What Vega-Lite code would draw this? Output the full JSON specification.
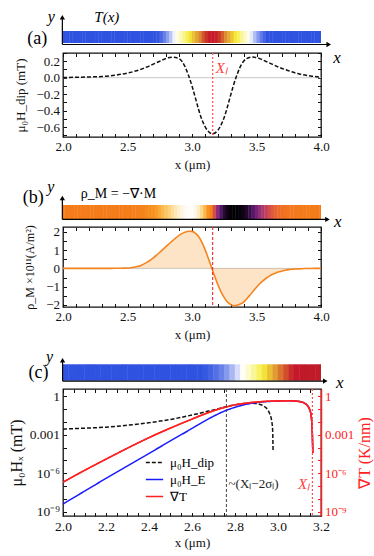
{
"$schema":"https://vega.github.io/schema/vega-lite/v6.json",
"padding":{"left":7,"top":0,"right":0,"bottom":0},
"background":"white",
"config":{
 "view":{"stroke":"#111111","strokeWidth":1.3},
 "font":"Liberation Serif",
 "axis":{"labelFont":"Liberation Serif","labelFontSize":13,"labelColor":"#111111","titleFont":"Liberation Serif","titleFontSize":13,"titleFontWeight":"normal","titleColor":"#111111","domain":false,"grid":false,"ticks":true,"tickColor":"#111111","tickSize":-3.5,"tickWidth":1,"labelPadding":7,"titlePadding":5,"labelFlush":false,"labelOverlap":false,"labelBound":false}
},
"datasets":{
 "T":[{"x":2.0125,"T":0},{"x":2.0375,"T":0},{"x":2.0625,"T":0},{"x":2.0875,"T":0},{"x":2.1125,"T":0},{"x":2.1375,"T":0},{"x":2.1625,"T":0},{"x":2.1875,"T":0},{"x":2.2125,"T":0},{"x":2.2375,"T":0},{"x":2.2625,"T":0},{"x":2.2875,"T":0},{"x":2.3125,"T":0},{"x":2.3375,"T":0.0001},{"x":2.3625,"T":0.0001},{"x":2.3875,"T":0.0001},{"x":2.4125,"T":0.0002},{"x":2.4375,"T":0.0003},{"x":2.4625,"T":0.0005},{"x":2.4875,"T":0.0009},{"x":2.5125,"T":0.0015},{"x":2.5375,"T":0.0025},{"x":2.5625,"T":0.0041},{"x":2.5875,"T":0.0064},{"x":2.6125,"T":0.0098},{"x":2.6375,"T":0.0148},{"x":2.6625,"T":0.0219},{"x":2.6875,"T":0.0319},{"x":2.7125,"T":0.0455},{"x":2.7375,"T":0.0636},{"x":2.7625,"T":0.0873},{"x":2.7875,"T":0.1175},{"x":2.8125,"T":0.1551},{"x":2.8375,"T":0.2009},{"x":2.8625,"T":0.2552},{"x":2.8875,"T":0.3179},{"x":2.9125,"T":0.3886},{"x":2.9375,"T":0.4658},{"x":2.9625,"T":0.5477},{"x":2.9875,"T":0.6318},{"x":3.0125,"T":0.7148},{"x":3.0375,"T":0.7933},{"x":3.0625,"T":0.8636},{"x":3.0875,"T":0.9221},{"x":3.1125,"T":0.9658},{"x":3.1375,"T":0.9922},{"x":3.1625,"T":0.9999},{"x":3.1875,"T":0.9884},{"x":3.2125,"T":0.9584},{"x":3.2375,"T":0.9115},{"x":3.2625,"T":0.8503},{"x":3.2875,"T":0.7781},{"x":3.3125,"T":0.6984},{"x":3.3375,"T":0.615},{"x":3.3625,"T":0.5311},{"x":3.3875,"T":0.4499},{"x":3.4125,"T":0.3738},{"x":3.4375,"T":0.3047},{"x":3.4625,"T":0.2436},{"x":3.4875,"T":0.1911},{"x":3.5125,"T":0.147},{"x":3.5375,"T":0.1109},{"x":3.5625,"T":0.0821},{"x":3.5875,"T":0.0596},{"x":3.6125,"T":0.0424},{"x":3.6375,"T":0.0297},{"x":3.6625,"T":0.0203},{"x":3.6875,"T":0.0136},{"x":3.7125,"T":0.009},{"x":3.7375,"T":0.0058},{"x":3.7625,"T":0.0037},{"x":3.7875,"T":0.0023},{"x":3.8125,"T":0.0014},{"x":3.8375,"T":0.0008},{"x":3.8625,"T":0.0005},{"x":3.8875,"T":0.0003},{"x":3.9125,"T":0.0002},{"x":3.9375,"T":0.0001},{"x":3.9625,"T":0.0001},{"x":3.9875,"T":0}],
 "Ha":[{"x":2,"h":0.003},{"x":2.1,"h":0.005},{"x":2.2,"h":0.009},{"x":2.3,"h":0.015},{"x":2.4,"h":0.03},{"x":2.5,"h":0.056},{"x":2.6,"h":0.1},{"x":2.65,"h":0.13},{"x":2.7,"h":0.165},{"x":2.75,"h":0.2},{"x":2.8,"h":0.235},{"x":2.85,"h":0.25},{"x":2.9,"h":0.23},{"x":2.95,"h":0.12},{"x":2.97,"h":0.04},{"x":3.0,"h":-0.1},{"x":3.02,"h":-0.21},{"x":3.05,"h":-0.38},{"x":3.07,"h":-0.48},{"x":3.1,"h":-0.59},{"x":3.12,"h":-0.64},{"x":3.16,"h":-0.68},{"x":3.2,"h":-0.64},{"x":3.22,"h":-0.59},{"x":3.25,"h":-0.48},{"x":3.27,"h":-0.38},{"x":3.3,"h":-0.21},{"x":3.32,"h":-0.1},{"x":3.35,"h":0.04},{"x":3.37,"h":0.12},{"x":3.4,"h":0.2},{"x":3.42,"h":0.23},{"x":3.47,"h":0.25},{"x":3.52,"h":0.235},{"x":3.57,"h":0.2},{"x":3.62,"h":0.165},{"x":3.67,"h":0.13},{"x":3.72,"h":0.1},{"x":3.82,"h":0.05},{"x":3.92,"h":0.02},{"x":4.0,"h":0.008}],
 "Rb":[{"x":2.0,"r":0},{"x":2.025,"r":0},{"x":2.05,"r":0},{"x":2.075,"r":0},{"x":2.1,"r":0},{"x":2.125,"r":0},{"x":2.15,"r":0},{"x":2.175,"r":0},{"x":2.2,"r":0},{"x":2.225,"r":0},{"x":2.25,"r":0},{"x":2.275,"r":0},{"x":2.3,"r":0},{"x":2.325,"r":0.001},{"x":2.35,"r":0.001},{"x":2.375,"r":0.002},{"x":2.4,"r":0.003},{"x":2.425,"r":0.005},{"x":2.45,"r":0.008},{"x":2.475,"r":0.013},{"x":2.5,"r":0.02},{"x":2.525,"r":0.035},{"x":2.55,"r":0.06},{"x":2.575,"r":0.1},{"x":2.6,"r":0.15},{"x":2.625,"r":0.23},{"x":2.65,"r":0.33},{"x":2.675,"r":0.44},{"x":2.7,"r":0.57},{"x":2.725,"r":0.72},{"x":2.75,"r":0.88},{"x":2.775,"r":1.04},{"x":2.8,"r":1.2},{"x":2.825,"r":1.36},{"x":2.85,"r":1.52},{"x":2.875,"r":1.67},{"x":2.9,"r":1.8},{"x":2.925,"r":1.91},{"x":2.95,"r":1.99},{"x":2.975,"r":2.03},{"x":3.0,"r":2.02},{"x":3.025,"r":1.93},{"x":3.05,"r":1.75},{"x":3.075,"r":1.45},{"x":3.1,"r":1.05},{"x":3.125,"r":0.58},{"x":3.15,"r":0.08},{"x":3.175,"r":-0.42},{"x":3.2,"r":-0.88},{"x":3.225,"r":-1.28},{"x":3.25,"r":-1.6},{"x":3.275,"r":-1.84},{"x":3.3,"r":-1.98},{"x":3.325,"r":-2.04},{"x":3.35,"r":-2.02},{"x":3.375,"r":-1.95},{"x":3.4,"r":-1.84},{"x":3.425,"r":-1.66},{"x":3.45,"r":-1.46},{"x":3.475,"r":-1.24},{"x":3.5,"r":-1.03},{"x":3.525,"r":-0.84},{"x":3.55,"r":-0.68},{"x":3.575,"r":-0.54},{"x":3.6,"r":-0.42},{"x":3.625,"r":-0.32},{"x":3.65,"r":-0.25},{"x":3.675,"r":-0.19},{"x":3.7,"r":-0.14},{"x":3.725,"r":-0.1},{"x":3.75,"r":-0.07},{"x":3.775,"r":-0.05},{"x":3.8,"r":-0.035},{"x":3.825,"r":-0.025},{"x":3.85,"r":-0.017},{"x":3.875,"r":-0.011},{"x":3.9,"r":-0.007},{"x":3.925,"r":-0.004},{"x":3.95,"r":-0.002},{"x":3.975,"r":-0.001},{"x":4.0,"r":0}],
 "Hc":[
  {"x":2.0,"s":"μ₀H_dip","v":0.00282},{"x":2.1,"s":"μ₀H_dip","v":0.00331},{"x":2.2,"s":"μ₀H_dip","v":0.00398},{"x":2.3,"s":"μ₀H_dip","v":0.00562},{"x":2.4,"s":"μ₀H_dip","v":0.00891},{"x":2.5,"s":"μ₀H_dip","v":0.01585},{"x":2.6,"s":"μ₀H_dip","v":0.0355},{"x":2.7,"s":"μ₀H_dip","v":0.0891},{"x":2.76,"s":"μ₀H_dip","v":0.158},{"x":2.8,"s":"μ₀H_dip","v":0.219},{"x":2.85,"s":"μ₀H_dip","v":0.282},{"x":2.88,"s":"μ₀H_dip","v":0.295},{"x":2.91,"s":"μ₀H_dip","v":0.251},{"x":2.93,"s":"μ₀H_dip","v":0.191},{"x":2.95,"s":"μ₀H_dip","v":0.1},{"x":2.96,"s":"μ₀H_dip","v":0.0501},{"x":2.97,"s":"μ₀H_dip","v":0.0141},{"x":2.975,"s":"μ₀H_dip","v":0.00251},{"x":2.977,"s":"μ₀H_dip","v":0.000063},
  {"x":2.0,"s":"μ₀H_E","v":3.98e-9},{"x":2.1,"s":"μ₀H_E","v":3.98e-8},{"x":2.2,"s":"μ₀H_E","v":3.98e-7},{"x":2.3,"s":"μ₀H_E","v":3.8e-6},{"x":2.4,"s":"μ₀H_E","v":3.55e-5},{"x":2.5,"s":"μ₀H_E","v":3.39e-4},{"x":2.6,"s":"μ₀H_E","v":3.16e-3},{"x":2.65,"s":"μ₀H_E","v":0.01},{"x":2.7,"s":"μ₀H_E","v":0.0282},{"x":2.75,"s":"μ₀H_E","v":0.0708},{"x":2.8,"s":"μ₀H_E","v":0.141},{"x":2.85,"s":"μ₀H_E","v":0.24},{"x":2.9,"s":"μ₀H_E","v":0.331},{"x":2.95,"s":"μ₀H_E","v":0.398},{"x":3.0,"s":"μ₀H_E","v":0.437},{"x":3.05,"s":"μ₀H_E","v":0.457},{"x":3.1,"s":"μ₀H_E","v":0.398},{"x":3.13,"s":"μ₀H_E","v":0.251},{"x":3.15,"s":"μ₀H_E","v":0.0708},{"x":3.158,"s":"μ₀H_E","v":0.0063},{"x":3.162,"s":"μ₀H_E","v":3.98e-5},
  {"x":2.0,"s":"∇T","v":2.0e-7},{"x":2.1,"s":"∇T","v":1.66e-6},{"x":2.2,"s":"∇T","v":1.26e-5},{"x":2.3,"s":"∇T","v":9.12e-5},{"x":2.4,"s":"∇T","v":6.03e-4},{"x":2.5,"s":"∇T","v":3.39e-3},{"x":2.6,"s":"∇T","v":0.017},{"x":2.65,"s":"∇T","v":0.0372},{"x":2.7,"s":"∇T","v":0.0759},{"x":2.75,"s":"∇T","v":0.138},{"x":2.8,"s":"∇T","v":0.219},{"x":2.85,"s":"∇T","v":0.295},{"x":2.9,"s":"∇T","v":0.363},{"x":2.95,"s":"∇T","v":0.417},{"x":3.0,"s":"∇T","v":0.447},{"x":3.05,"s":"∇T","v":0.457},{"x":3.1,"s":"∇T","v":0.398},{"x":3.13,"s":"∇T","v":0.251},{"x":3.15,"s":"∇T","v":0.0708},{"x":3.158,"s":"∇T","v":0.0063},{"x":3.162,"s":"∇T","v":3.98e-5}
 ]
},
"resolve":{"scale":{"x":"independent","y":"independent","color":"independent","strokeDash":"independent"}},
"spacing":0,
"bounds":"flush",
"vconcat":[
 {"width":258,"height":53,"view":{"stroke":null},
  "layer":[
   {"data":{"name":"T"},"mark":{"type":"tick","orient":"vertical","thickness":3.6,"size":12,"opacity":1,"clip":true},
    "encoding":{"x":{"field":"x","type":"quantitative","scale":{"domain":[2,4],"nice":false,"zero":false},"axis":null},
     "y":{"datum":0.5,"type":"quantitative","scale":{"domain":[-0.833,3.583],"nice":false,"zero":false},"axis":null},
     "color":{"field":"T","type":"quantitative","scale":{"domain":[0,0.06,0.27,0.6,0.86,1],"range":["#2f52e0","#2f52e0","#ffffff","#f6ee3a","#dd8a2e","#c6182a"],"interpolate":"rgb"},"legend":null}}},
   {"data":{"values":[{}]},"mark":{"type":"rule","color":"black","strokeWidth":1.2},"encoding":{"x":{"datum":1.995,"type":"quantitative","axis":null},"y":{"datum":-0.125,"type":"quantitative","axis":null},"y2":{"datum":2.15}}},
   {"data":{"values":[{}]},"mark":{"type":"rule","color":"black","strokeWidth":1.2},"encoding":{"x":{"datum":1.995,"type":"quantitative","axis":null},"x2":{"datum":4.06},"y":{"datum":-0.125,"type":"quantitative","axis":null}}},
   {"data":{"values":[{}]},"mark":{"type":"point","shape":"triangle-up","filled":true,"color":"black","size":28,"opacity":1},"encoding":{"x":{"datum":1.995,"type":"quantitative","axis":null},"y":{"datum":2.15,"type":"quantitative","axis":null}}},
   {"data":{"values":[{}]},"mark":{"type":"point","shape":"triangle-right","filled":true,"color":"black","size":28,"opacity":1},"encoding":{"x":{"datum":4.06,"type":"quantitative","axis":null},"y":{"datum":-0.125,"type":"quantitative","axis":null}}},
   {"data":{"values":[{}]},"mark":{"type":"text","text":"y","fontStyle":"italic","fontSize":16},"encoding":{"x":{"datum":1.91,"type":"quantitative","axis":null},"y":{"datum":2.2,"type":"quantitative","axis":null}}},
   {"data":{"values":[{}]},"mark":{"type":"text","text":"T(x)","fontStyle":"italic","fontSize":15},"encoding":{"x":{"datum":2.34,"type":"quantitative","axis":null},"y":{"datum":2.2,"type":"quantitative","axis":null}}},
   {"data":{"values":[{}]},"mark":{"type":"text","text":"(a)","fontSize":18},"encoding":{"x":{"datum":1.8,"type":"quantitative","axis":null},"y":{"datum":0.3,"type":"quantitative","axis":null}}},
   {"data":{"values":[{}]},"mark":{"type":"text","text":"x","fontStyle":"italic","fontSize":17},"encoding":{"x":{"datum":4.125,"type":"quantitative","axis":null},"y":{"datum":-1.25,"type":"quantitative","axis":null}}}
  ]},
 {"width":258,"height":84,
  "layer":[
   {"data":{"values":[{}]},"mark":{"type":"rule","color":"#c8c8c8","strokeWidth":1},
    "encoding":{"y":{"datum":0,"type":"quantitative","scale":{"domain":[-0.72,0.3],"nice":false,"zero":false},"axis":{"orient":"right","labels":false,"title":null,"values":[-0.7,-0.6,-0.5,-0.4,-0.3,-0.2,-0.1,0,0.1,0.2,0.3]}}}},
   {"data":{"name":"Ha"},"mark":{"type":"line","color":"#111111","strokeDash":[4,2],"strokeWidth":1.5,"interpolate":"monotone"},
    "encoding":{"x":{"field":"x","type":"quantitative","scale":{"domain":[2,4],"nice":false,"zero":false},"axis":{"orient":"bottom","values":[2,2.1,2.2,2.3,2.4,2.5,2.6,2.7,2.8,2.9,3,3.1,3.2,3.3,3.4,3.5,3.6,3.7,3.8,3.9,4],"labelExpr":"abs(datum.value*2-round(datum.value*2))<0.001 ? format(datum.value,'.1f') : ''","title":"x (μm)"}},
     "y":{"field":"h","type":"quantitative","axis":{"orient":"left","values":[-0.7,-0.6,-0.5,-0.4,-0.3,-0.2,-0.1,0,0.1,0.2,0.3],"labelExpr":"abs(datum.value*5-round(datum.value*5))<0.001 ? format(datum.value,'.1f') : ''","title":"μ₀H_dip (mT)","titlePadding":8}}}},
   {"data":{"values":[{}]},"mark":{"type":"rule","color":"#ff5a5a","strokeDash":[2,2],"strokeWidth":1.3},
    "encoding":{"x":{"datum":3.16,"type":"quantitative","axis":{"orient":"top","labels":false,"title":null,"values":[2,2.1,2.2,2.3,2.4,2.5,2.6,2.7,2.8,2.9,3,3.1,3.2,3.3,3.4,3.5,3.6,3.7,3.8,3.9,4]}}}},
   {"data":{"values":[{}]},"mark":{"type":"text","text":"Xₗ","color":"#ff4040","fontStyle":"italic","fontSize":15,"align":"left"},
    "encoding":{"x":{"datum":3.185,"type":"quantitative","axis":null},"y":{"datum":0.12,"type":"quantitative","axis":null}}}
  ]},
 {"width":258,"height":90,"view":{"stroke":null},
  "layer":[
   {"data":{"name":"Rb"},"mark":{"type":"tick","orient":"vertical","thickness":3.6,"size":14,"opacity":1,"clip":true},
    "encoding":{"x":{"field":"x","type":"quantitative","scale":{"domain":[2,4],"nice":false,"zero":false},"axis":null},
     "y":{"datum":0.5,"type":"quantitative","scale":{"domain":[-0.571,5.857],"nice":false,"zero":false},"axis":null},
     "color":{"field":"r","type":"quantitative","scale":{"domain":[-2.05,-1.7,-1.3,-0.9,-0.5,-0.2,0,0.6,1.1,1.6,2.05],"range":["#000000","#1c0726","#4b1563","#8c2a7e","#c8445a","#ec6a2a","#f57c1a","#f8921e","#fbbd50","#fde3a8","#ffffff"],"interpolate":"rgb"},"legend":null}}},
   {"data":{"values":[{}]},"mark":{"type":"rule","color":"black","strokeWidth":1.2},"encoding":{"x":{"datum":1.995,"type":"quantitative","axis":null},"y":{"datum":-0.03,"type":"quantitative","axis":null},"y2":{"datum":1.5}}},
   {"data":{"values":[{}]},"mark":{"type":"rule","color":"black","strokeWidth":1.2},"encoding":{"x":{"datum":1.995,"type":"quantitative","axis":null},"x2":{"datum":4.05},"y":{"datum":-0.03,"type":"quantitative","axis":null}}},
   {"data":{"values":[{}]},"mark":{"type":"point","shape":"triangle-up","filled":true,"color":"black","size":28,"opacity":1},"encoding":{"x":{"datum":1.995,"type":"quantitative","axis":null},"y":{"datum":1.5,"type":"quantitative","axis":null}}},
   {"data":{"values":[{}]},"mark":{"type":"point","shape":"triangle-right","filled":true,"color":"black","size":28,"opacity":1},"encoding":{"x":{"datum":4.05,"type":"quantitative","axis":null},"y":{"datum":-0.03,"type":"quantitative","axis":null}}},
   {"data":{"values":[{}]},"mark":{"type":"text","text":"y","fontStyle":"italic","fontSize":16},"encoding":{"x":{"datum":1.906,"type":"quantitative","axis":null},"y":{"datum":2.29,"type":"quantitative","axis":null}}},
   {"data":{"values":[{}]},"mark":{"type":"text","text":"ρ_M = −∇·M","fontSize":14},"encoding":{"x":{"datum":2.43,"type":"quantitative","axis":null},"y":{"datum":1.79,"type":"quantitative","axis":null}}},
   {"data":{"values":[{}]},"mark":{"type":"text","text":"(b)","fontSize":18},"encoding":{"x":{"datum":1.77,"type":"quantitative","axis":null},"y":{"datum":1.5,"type":"quantitative","axis":null}}},
   {"data":{"values":[{}]},"mark":{"type":"text","text":"x","fontStyle":"italic","fontSize":17},"encoding":{"x":{"datum":4.13,"type":"quantitative","axis":null},"y":{"datum":-0.21,"type":"quantitative","axis":null}}}
  ]},
 {"width":258,"height":80,
  "layer":[
   {"data":{"values":[{}]},"mark":{"type":"rule","color":"#c8c8c8","strokeWidth":1},
    "encoding":{"y":{"datum":0,"type":"quantitative","scale":{"domain":[-2.11,2.26],"nice":false,"zero":false},"axis":{"orient":"right","labels":false,"title":null,"values":[-2,-1.5,-1,-0.5,0,0.5,1,1.5,2]}}}},
   {"data":{"name":"Rb"},"mark":{"type":"area","color":"#f7941d","opacity":0.25,"interpolate":"monotone"},
    "encoding":{"x":{"field":"x","type":"quantitative","scale":{"domain":[2,4],"nice":false,"zero":false},"axis":{"orient":"bottom","values":[2,2.1,2.2,2.3,2.4,2.5,2.6,2.7,2.8,2.9,3,3.1,3.2,3.3,3.4,3.5,3.6,3.7,3.8,3.9,4],"labelExpr":"abs(datum.value*2-round(datum.value*2))<0.001 ? format(datum.value,'.1f') : ''","title":"x (μm)"}},
     "y":{"field":"r","type":"quantitative","axis":{"orient":"left","values":[-2,-1.5,-1,-0.5,0,0.5,1,1.5,2],"labelExpr":"abs(datum.value-round(datum.value))<0.001 ? format(datum.value,'d') : ''","title":"ρ_M ×10¹¹(A/m²)","titleFontSize":12,"titlePadding":9}},
     "y2":{"datum":0}}},
   {"data":{"name":"Rb"},"mark":{"type":"line","color":"#f5841f","strokeWidth":1.6,"interpolate":"monotone"},
    "encoding":{"x":{"field":"x","type":"quantitative","axis":null},"y":{"field":"r","type":"quantitative","axis":null}}},
   {"data":{"values":[{}]},"mark":{"type":"rule","color":"#ee2a2a","strokeDash":[3,2],"strokeWidth":1.1},
    "encoding":{"x":{"datum":3.16,"type":"quantitative","axis":{"orient":"top","labels":false,"title":null,"values":[2,2.1,2.2,2.3,2.4,2.5,2.6,2.7,2.8,2.9,3,3.1,3.2,3.3,3.4,3.5,3.6,3.7,3.8,3.9,4]}}}}
  ]},
 {"width":258,"height":82,"view":{"stroke":null},
  "layer":[
   {"data":{"name":"T"},"transform":[{"filter":"datum.x < 3.2"}],"mark":{"type":"tick","orient":"vertical","thickness":5.8,"size":16.4,"opacity":1,"clip":true},
    "encoding":{"x":{"field":"x","type":"quantitative","scale":{"domain":[2,3.2],"nice":false,"zero":false},"axis":null},
     "y":{"datum":0.5,"type":"quantitative","scale":{"domain":[-0.506,4.494],"nice":false,"zero":false},"axis":null},
     "color":{"field":"T","type":"quantitative","scale":{"domain":[0,0.015,0.19,0.44,0.67,0.9,1],"range":["#2f52e0","#2f52e0","#ffffff","#f6ee3a","#dd8a2e","#c6182a","#c01a28"],"interpolate":"rgb"},"legend":null}}},
   {"data":{"values":[{}]},"mark":{"type":"rule","color":"black","strokeWidth":1.2},"encoding":{"x":{"datum":1.998,"type":"quantitative","axis":null},"y":{"datum":-0.02,"type":"quantitative","axis":null},"y2":{"datum":1.25}}},
   {"data":{"values":[{}]},"mark":{"type":"rule","color":"black","strokeWidth":1.2},"encoding":{"x":{"datum":1.998,"type":"quantitative","axis":null},"x2":{"datum":3.22},"y":{"datum":-0.02,"type":"quantitative","axis":null}}},
   {"data":{"values":[{}]},"mark":{"type":"point","shape":"triangle-up","filled":true,"color":"black","size":28,"opacity":1},"encoding":{"x":{"datum":1.998,"type":"quantitative","axis":null},"y":{"datum":1.25,"type":"quantitative","axis":null}}},
   {"data":{"values":[{}]},"mark":{"type":"point","shape":"triangle-right","filled":true,"color":"black","size":28,"opacity":1},"encoding":{"x":{"datum":3.22,"type":"quantitative","axis":null},"y":{"datum":-0.02,"type":"quantitative","axis":null}}},
   {"data":{"values":[{}]},"mark":{"type":"text","text":"y","fontStyle":"italic","fontSize":16},"encoding":{"x":{"datum":1.938,"type":"quantitative","axis":null},"y":{"datum":1.45,"type":"quantitative","axis":null}}},
   {"data":{"values":[{}]},"mark":{"type":"text","text":"(c)","fontSize":18},"encoding":{"x":{"datum":1.886,"type":"quantitative","axis":null},"y":{"datum":0.47,"type":"quantitative","axis":null}}},
   {"data":{"values":[{}]},"mark":{"type":"text","text":"x","fontStyle":"italic","fontSize":17},"encoding":{"x":{"datum":3.287,"type":"quantitative","axis":null},"y":{"datum":-0.14,"type":"quantitative","axis":null}}}
  ]},
 {"width":258,"height":127,
  "layer":[
   {"data":{"name":"Hc"},"mark":{"type":"line","strokeWidth":1.5,"interpolate":"monotone"},
    "encoding":{"x":{"field":"x","type":"quantitative","scale":{"domain":[2,3.2],"nice":false,"zero":false},"axis":{"orient":"bottom","values":[2,2.05,2.1,2.15,2.2,2.25,2.3,2.35,2.4,2.45,2.5,2.55,2.6,2.65,2.7,2.75,2.8,2.85,2.9,2.95,3,3.05,3.1,3.15,3.2],"labelExpr":"abs(datum.value*5-round(datum.value*5))<0.001 ? format(datum.value,'.1f') : ''","title":"x (μm)","labelFontSize":13.5,"titlePadding":3}},
     "y":{"field":"v","type":"quantitative","scale":{"type":"log","domain":[4.6e-10,3.8],"nice":false},"axis":{"orient":"left","values":[1e-9,1e-8,1e-7,1e-6,1e-5,1e-4,1e-3,1e-2,1e-1,1],"labelExpr":"round(log(datum.value)/LN10) == 0 ? '1' : round(log(datum.value)/LN10) == -3 ? '0.001' : round(log(datum.value)/LN10) == -6 ? '10⁻⁶' : round(log(datum.value)/LN10) == -9 ? '10⁻⁹' : ''","title":"μ₀Hₓ (mT)","titleFontSize":16,"labelFontSize":13.5,"titlePadding":5}},
     "color":{"field":"s","type":"nominal","scale":{"domain":["μ₀H_dip","μ₀H_E","∇T"],"range":["#111111","#1a1aff","#ff2020"]},"legend":{"orient":"none","legendX":82,"legendY":64,"title":null,"symbolType":"stroke","symbolSize":300,"symbolStrokeWidth":1.5,"labelFont":"Liberation Serif","labelFontSize":13,"rowPadding":0,"labelOffset":6,"padding":0}},
     "strokeDash":{"field":"s","type":"nominal","scale":{"domain":["μ₀H_dip","μ₀H_E","∇T"],"range":[[4,2],[1,0],[1,0]]},"legend":{"orient":"none","legendX":82,"legendY":64,"title":null,"symbolType":"stroke","symbolSize":300,"symbolStrokeWidth":1.5,"labelFont":"Liberation Serif","labelFontSize":13,"rowPadding":0,"labelOffset":6,"padding":0}}}},
   {"data":{"name":"Hc"},"transform":[{"filter":"datum.s == '∇T'"}],"mark":{"type":"line","color":"#ff2020","strokeWidth":1.5,"interpolate":"monotone"},
    "encoding":{"x":{"field":"x","type":"quantitative","axis":null},
     "y":{"field":"v","type":"quantitative","axis":{"orient":"right","values":[1e-9,1e-8,1e-7,1e-6,1e-5,1e-4,1e-3,1e-2,1e-1,1],"labelExpr":"round(log(datum.value)/LN10) == 0 ? '1' : round(log(datum.value)/LN10) == -3 ? '0.001' : round(log(datum.value)/LN10) == -6 ? '10⁻⁶' : round(log(datum.value)/LN10) == -9 ? '10⁻⁹' : ''","title":"∇T (K/nm)","titleFontSize":16,"labelFontSize":13,"titleColor":"#ff2020","labelColor":"#ff2020","tickColor":"#ff2020","domain":true,"domainColor":"#ff2020","domainWidth":1.5,"titlePadding":3,"titleAngle":270,"titleBaseline":"top"}}}},
   {"data":{"values":[{}]},"mark":{"type":"rule","color":"#444444","strokeDash":[3,2],"strokeWidth":1},
    "encoding":{"x":{"datum":2.76,"type":"quantitative","axis":{"orient":"top","labels":false,"title":null,"values":[2,2.05,2.1,2.15,2.2,2.25,2.3,2.35,2.4,2.45,2.5,2.55,2.6,2.65,2.7,2.75,2.8,2.85,2.9,2.95,3,3.05,3.1,3.15,3.2]}}}},
   {"data":{"values":[{}]},"mark":{"type":"rule","color":"#ff5050","strokeDash":[2,2],"strokeWidth":1.2},
    "encoding":{"x":{"datum":3.16,"type":"quantitative","axis":null}}},
   {"data":{"values":[{}]},"mark":{"type":"text","text":"~(Xₗ−2σₗ)","fontSize":13,"color":"#222222","align":"left"},
    "encoding":{"x":{"datum":2.77,"type":"quantitative","axis":null},"y":{"datum":1.5e-7,"type":"quantitative","axis":null}}},
   {"data":{"values":[{}]},"mark":{"type":"text","text":"Xₗ","fontSize":15,"fontStyle":"italic","color":"#ff4040","align":"right"},
    "encoding":{"x":{"datum":3.15,"type":"quantitative","axis":null},"y":{"datum":1.5e-7,"type":"quantitative","axis":null}}}
  ]}
]
}
